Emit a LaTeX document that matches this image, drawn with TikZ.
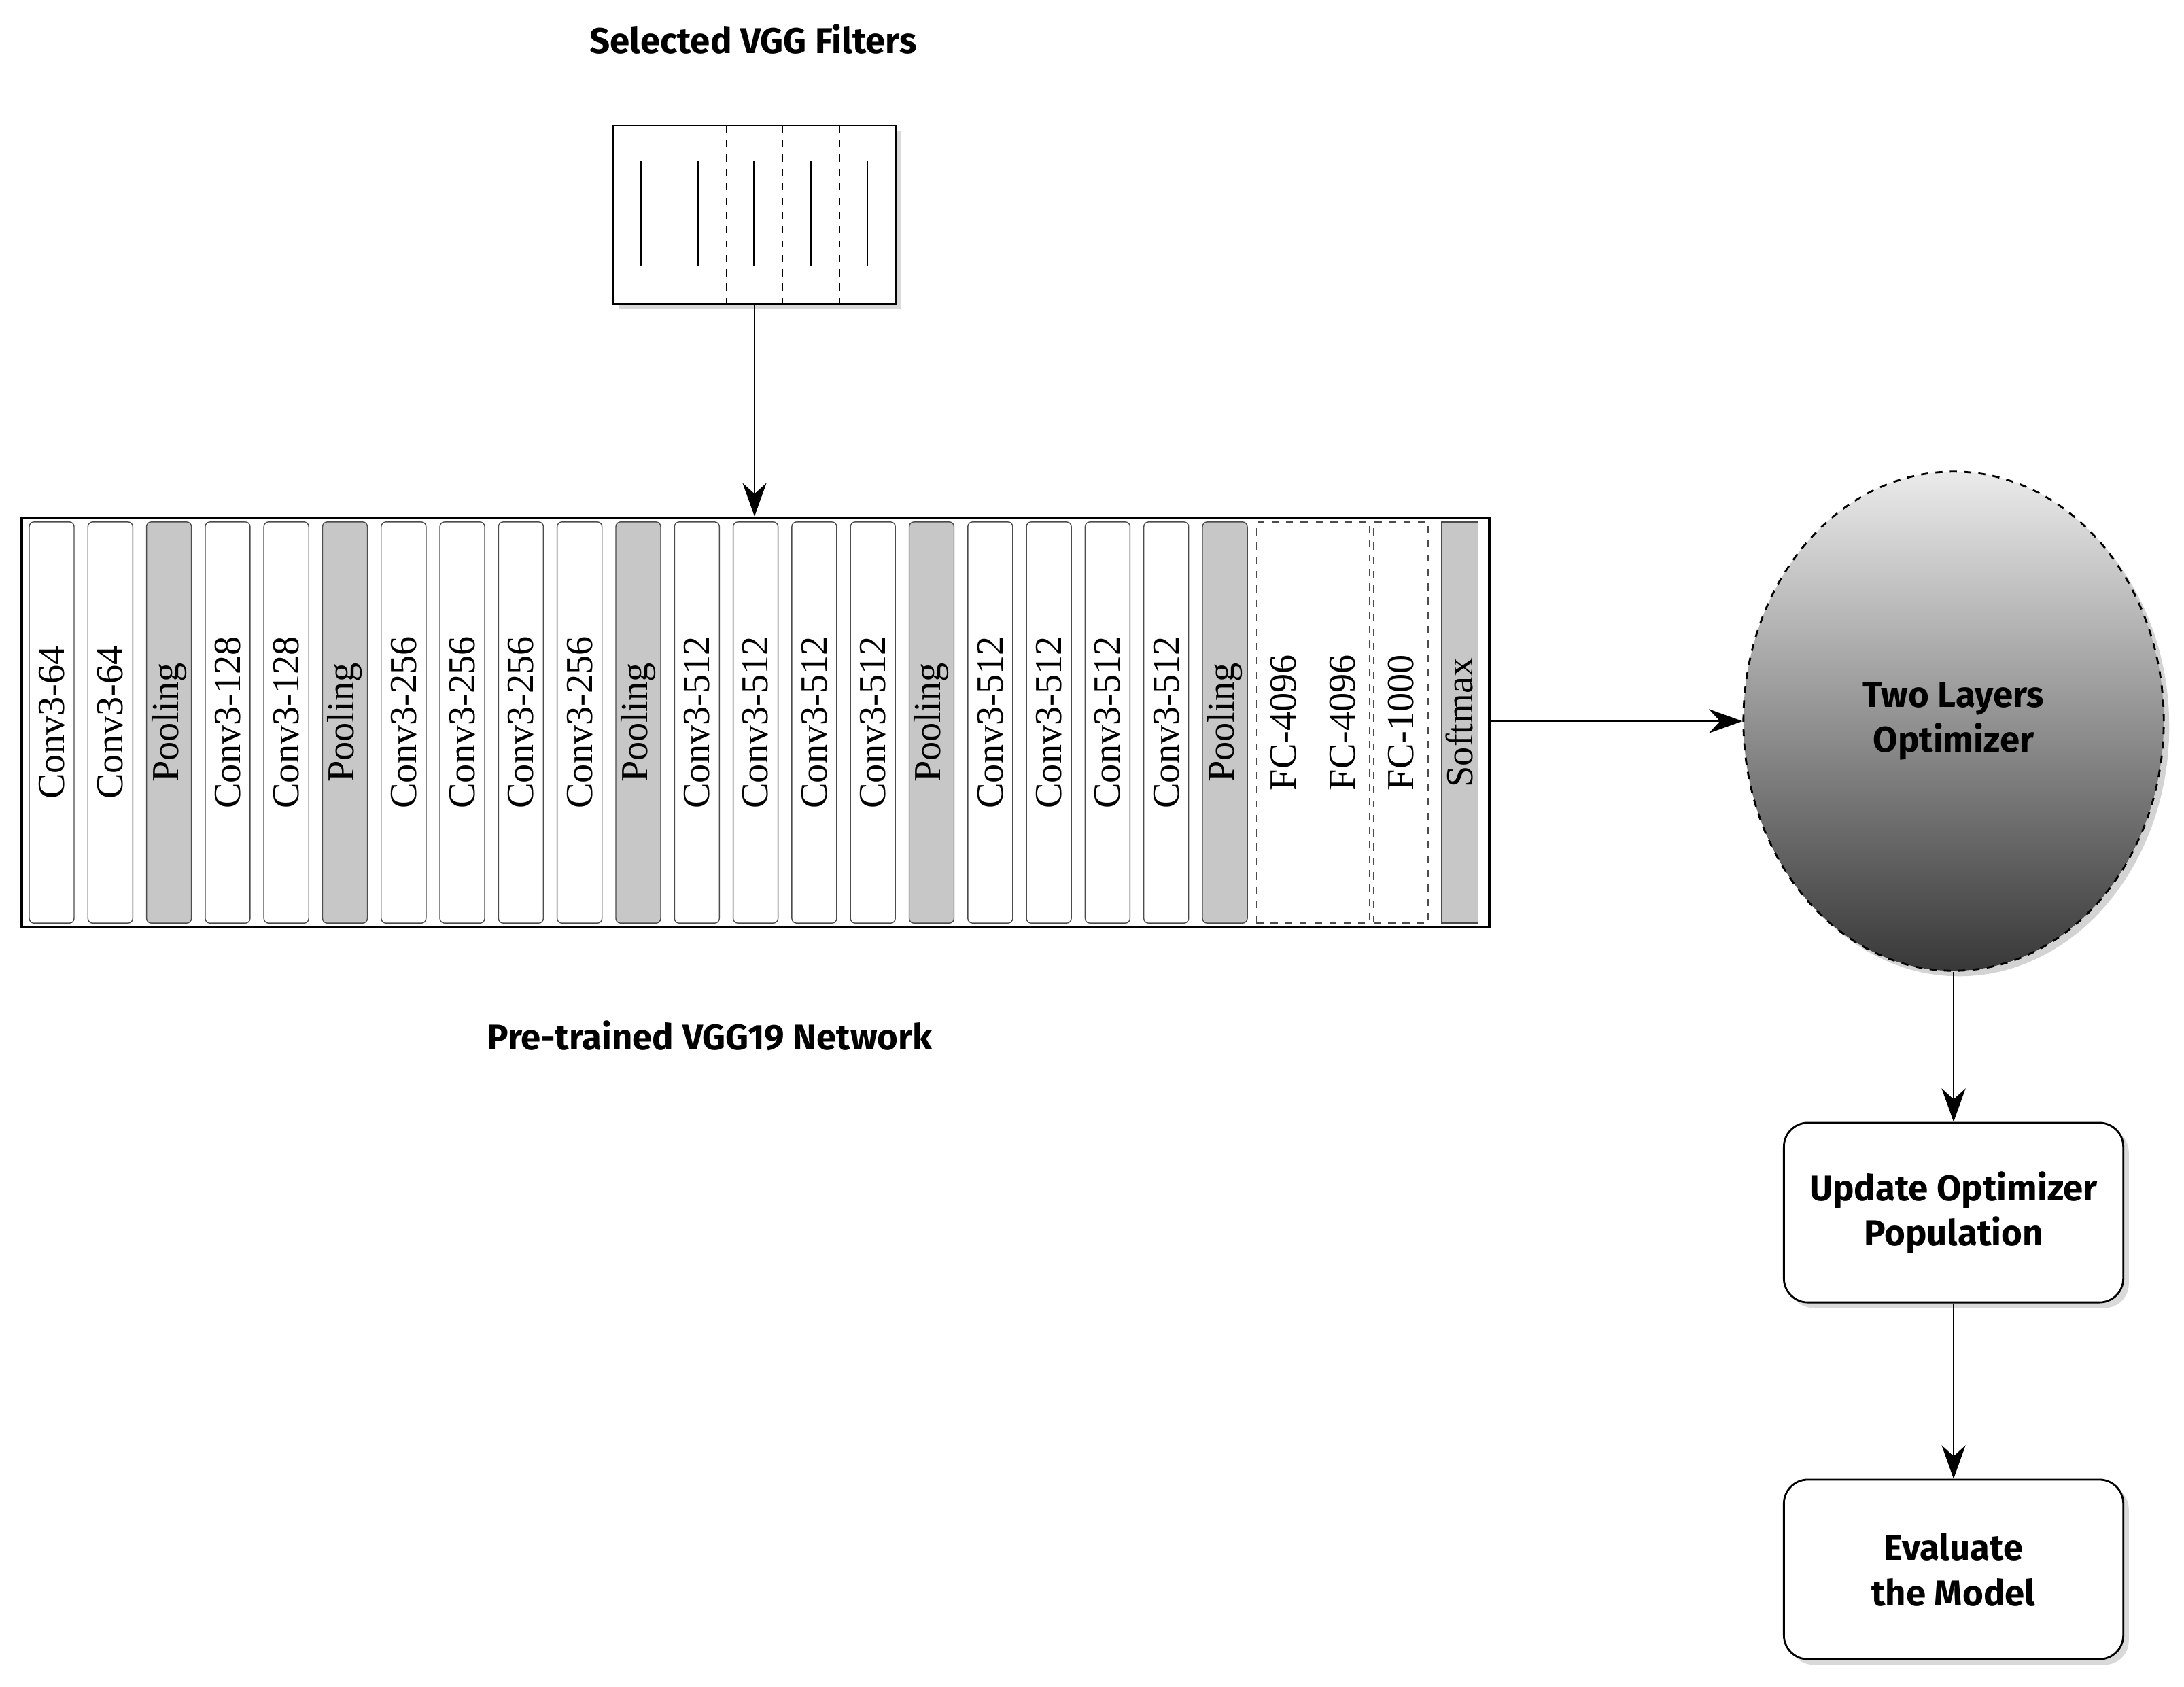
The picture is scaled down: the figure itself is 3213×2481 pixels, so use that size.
\documentclass[tikz,border=0pt]{standalone}
\usepackage{fontspec}
\setmainfont{Liberation Serif}
\newfontfamily\tagfont{Fira Sans}
\usetikzlibrary{arrows.meta,shadows,shapes.geometric}
\tikzset{
  layer/.style={draw=black!70,rounded corners=2pt,minimum width=0.66cm,minimum height=5.9cm,inner sep=0pt,font=\fontsize{16}{16}\selectfont},
  conv/.style={layer,fill=white},
  pool/.style={layer,fill=black!22,font=\fontsize{16}{16}\selectfont\bfseries},
  fc/.style={layer,dashed,rounded corners=0pt,minimum width=0.8cm,fill=white},
  soft/.style={layer,fill=black!22,rounded corners=0pt,minimum width=0.54cm},
  tag/.style={font=\tagfont\bfseries\fontsize{15}{19}\selectfont,align=center},
  stagebox/.style={draw,thick,rounded corners=10pt,fill=white,minimum width=4.99cm,minimum height=2.64cm,drop shadow={opacity=0.3},tag},
  link/.style={thick,-{Stealth[length=14pt,width=10pt]}}
}
\begin{document}
\begin{tikzpicture}[x=0.01cm,y=-0.01cm]
\useasboundingbox (0,0) rectangle (3213,2481);

% filters
\node[tag] (title) at (1108,58) {Selected VGG Filters};
\node[draw,thick,fill=white,minimum width=4.16cm,minimum height=2.62cm,inner sep=0pt,drop shadow={opacity=0.3}] (filt) at (1110,316) {};
\foreach \i in {1,...,4}
  \draw[dashed] (902+83.2*\i,185) -- (902+83.2*\i,447);
\foreach \i in {1,...,5}
  \draw[thick] (860+83.2*\i,237) -- (860+83.2*\i,391);

% network strip
\node[draw,very thick,minimum width=21.57cm,minimum height=6.02cm,inner sep=0pt] (net) at (1111.5,1063) {};
\foreach \lab/\kind [count=\i] in {Conv3-64/conv,Conv3-64/conv,Pooling/pool,Conv3-128/conv,Conv3-128/conv,Pooling/pool,
  Conv3-256/conv,Conv3-256/conv,Conv3-256/conv,Conv3-256/conv,Pooling/pool,
  Conv3-512/conv,Conv3-512/conv,Conv3-512/conv,Conv3-512/conv,Pooling/pool,
  Conv3-512/conv,Conv3-512/conv,Conv3-512/conv,Conv3-512/conv,Pooling/pool,
  FC-4096/fc,FC-4096/fc,FC-1000/fc,Softmax/soft}
  \node[\kind] (l\i) at (76+86.3*\i-86.3,1063) {};
\foreach \lab [count=\i] in {Conv3-64,Conv3-64,Pooling,Conv3-128,Conv3-128,Pooling,
  Conv3-256,Conv3-256,Conv3-256,Conv3-256,Pooling,
  Conv3-512,Conv3-512,Conv3-512,Conv3-512,Pooling,
  Conv3-512,Conv3-512,Conv3-512,Conv3-512,Pooling,
  FC-4096,FC-4096,FC-1000,Softmax}
  \node[rotate=90,font=\fontsize{16}{16}\selectfont] at (l\i) {\lab};
\node[tag] (netlab) at (1044,1524) {Pre-trained VGG19 Network};

% optimizer
\node[ellipse,draw,thick,dashed,minimum width=6.18cm,minimum height=7.34cm,top color=black!8,bottom color=black!78,
  drop shadow={opacity=0.35},tag] (opt) at (2874,1061) {Two Layers\\Optimizer};
\node[stagebox] (upd) at (2874,1784) {Update Optimizer\\Population};
\node[stagebox] (eval) at (2874,2309) {Evaluate\\the Model};

\draw[link] (filt.south) -- (net.north -| filt.south);
\draw[link] (net.east |- opt.west) -- (opt.west);
\draw[link] (opt.south) -- (upd.north);
\draw[link] (upd.south) -- (eval.north);
\end{tikzpicture}
\end{document}
